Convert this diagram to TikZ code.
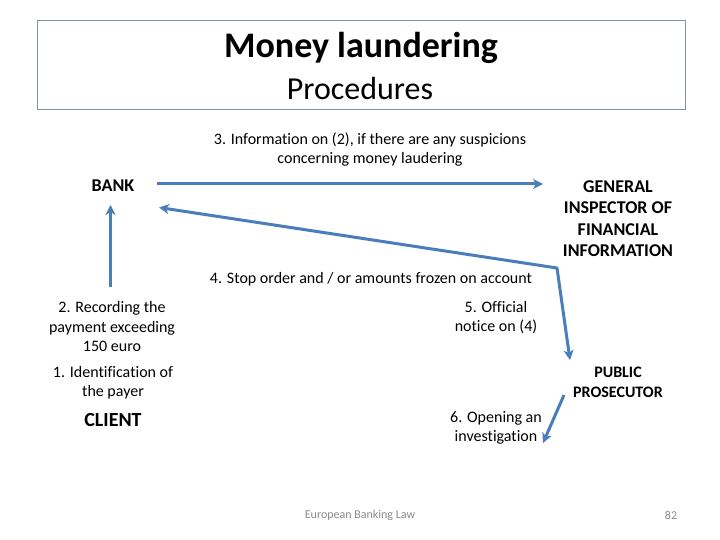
\documentclass[tikz,border=0pt]{standalone}
\usepackage{fontspec}
\setmainfont{Carlito}[Ligatures=NoCommon]
\usetikzlibrary{arrows.meta}
\definecolor{arrowblue}{HTML}{4A7EBB}
\definecolor{boxborder}{HTML}{8193A8}
\definecolor{footgray}{HTML}{8A8A8A}
\tikzset{
  flow/.style={draw=arrowblue, line width=3pt, line join=round, -{Stealth[length=10pt,width=10pt,inset=3pt]}},
  lbl/.style={inner sep=0pt, align=center, font=\fontsize{16}{19.5}\selectfont},
  actor/.style={inner sep=0pt, align=center, font=\fontsize{18}{21.5}\selectfont\bfseries},
  actorsm/.style={inner sep=0pt, align=center, font=\fontsize{16}{19.5}\selectfont\bfseries},
  foot/.style={inner sep=0pt, text=footgray, font=\fontsize{12}{14}\selectfont}
}
\begin{document}
\begin{tikzpicture}[x=1pt,y=-1pt]
\useasboundingbox (0,0) rectangle (720,540);
\fill[white] (0,0) rectangle (720,540);
\draw[boxborder, line width=1pt] (37,21) rectangle (685,110);
\node[inner sep=0pt, font=\fontsize{36}{40}\selectfont\bfseries] (title) at (361,48) {Money laundering};
\node[inner sep=0pt, font=\fontsize{32}{36}\selectfont] (subtitle) at (360,89) {Procedures};

\node[lbl] (l3) at (370,149.5) {3. Information on (2), if there are any suspicions\\concerning money laudering};
\node[actor] (bank) at (113,186) {BANK};
\node[actor] (gifi) at (618,218.5) {GENERAL\\INSPECTOR OF\\FINANCIAL\\INFORMATION};
\node[lbl] (l4) at (371,279) {4. Stop order and / or amounts frozen on account};
\node[lbl] (l2) at (112,327) {2. Recording the\\payment exceeding\\150 euro};
\node[lbl] (l1) at (113,382.5) {1. Identification of\\the payer};
\node[inner sep=0pt, font=\fontsize{20}{24}\selectfont\bfseries] (client) at (113,420) {CLIENT};
\node[lbl] (l5) at (496,317.5) {5. Official\\notice on (4)};
\node[actorsm] (pp) at (618,382.5) {PUBLIC\\PROSECUTOR};
\node[lbl] (l6) at (496,428) {6. Opening an\\investigation};
\node[foot] (footer) at (360,515) {European Banking Law};
\node[foot] (page) at (671,515) {82};

\coordinate (a1s) at (157,184);
\coordinate (a1e) at (543,184);
\coordinate (a2s) at (110.5,287);
\coordinate (a2e) at (110.5,205);
\coordinate (corner) at (557,268);
\coordinate (a3e) at (159,207.5);
\coordinate (a4e) at (570,360);
\coordinate (a5s) at (564,395);
\coordinate (a5e) at (543,443);

\draw[flow] (a1s) -- (a1e);
\draw[flow] (a2s) -- (a2e);
\draw[flow, {Stealth[length=10pt,width=10pt,inset=3pt]}-{Stealth[length=10pt,width=10pt,inset=3pt]}] (a3e) -- (corner) -- (a4e);
\draw[flow] (a5s) -- (a5e);
\end{tikzpicture}
\end{document}
